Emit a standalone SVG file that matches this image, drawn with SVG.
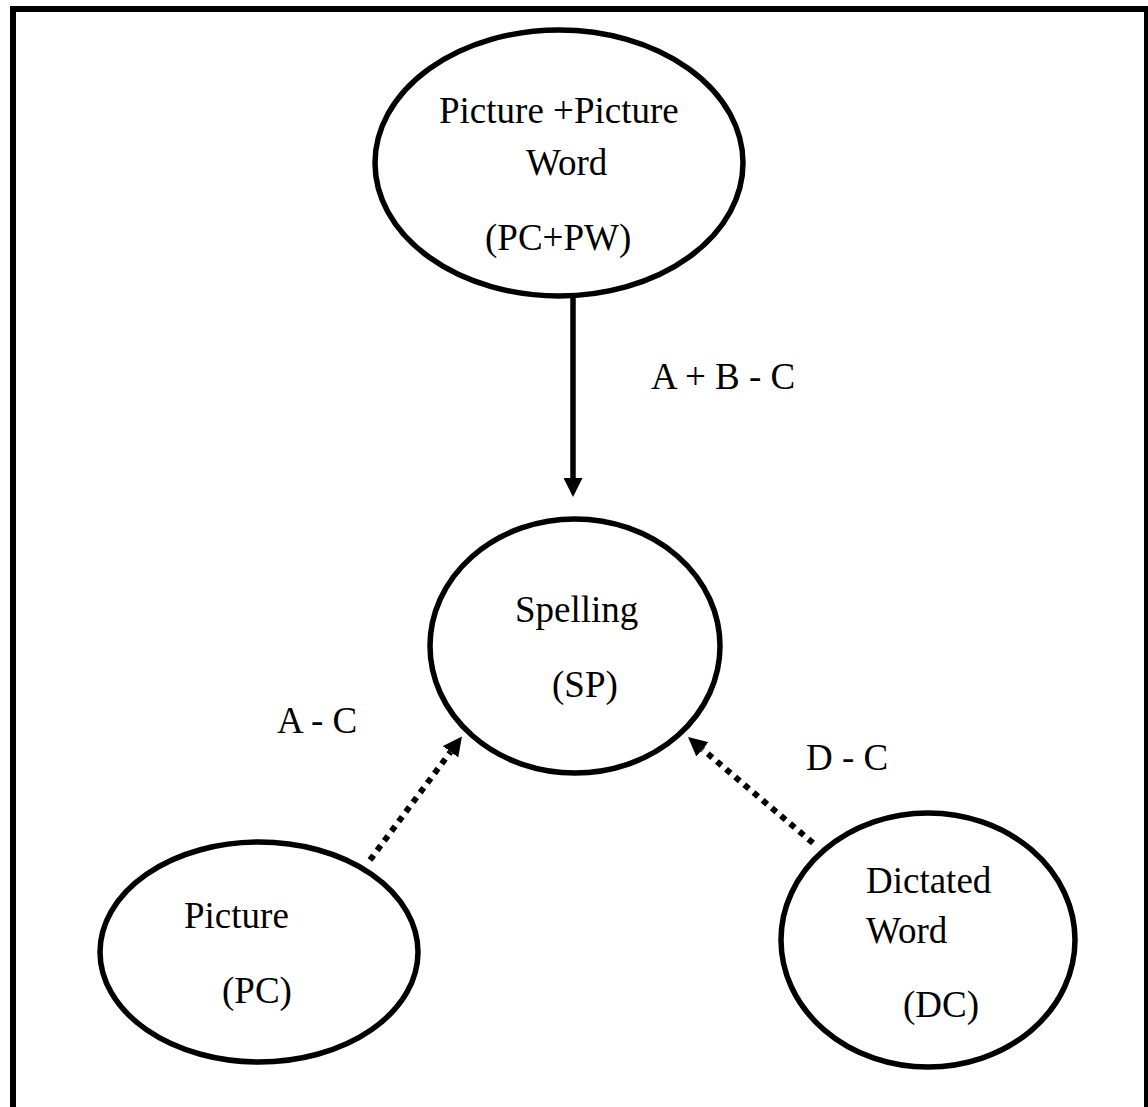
<svg xmlns="http://www.w3.org/2000/svg" width="1148" height="1107" viewBox="0 0 1148 1107">
<style>
.node{fill:#fff;stroke:#000;stroke-width:5.5}
.lbl{font-family:"Liberation Serif","Times New Roman",serif;font-size:37px;fill:#000}
.solid{stroke:#000;stroke-width:5.5;fill:none}
.dot{stroke:#000;stroke-width:6;fill:none;stroke-dasharray:6 6}
</style>
<defs>
<marker id="ah" markerUnits="userSpaceOnUse" markerWidth="19" markerHeight="19" refX="0" refY="9.5" orient="auto" viewBox="0 0 19 19">
<path d="M0,0 L19,9.5 L0,19 z" fill="#000"/>
</marker>
</defs>
<rect x="0" y="0" width="1148" height="1107" fill="#fff"/>
<rect id="frame" x="13" y="9" width="1134" height="1110" fill="none" stroke="#000" stroke-width="6"/>
<g id="connectors">
<line class="solid" x1="573" y1="297" x2="573" y2="478" marker-end="url(#ah)"/>
<line class="dot" x1="370" y1="860" x2="450.6" y2="751.8" marker-end="url(#ah)"/>
<line class="dot" x1="813" y1="843" x2="702.5" y2="749.3" marker-end="url(#ah)"/>
<text class="lbl" x="651" y="389">A + B - C</text>
<text class="lbl" x="277" y="733">A - C</text>
<text class="lbl" x="806" y="770">D - C</text>
</g>
<g id="node-pcpw">
<ellipse class="node" cx="559" cy="163" rx="184" ry="133"/>
<text class="lbl" x="439" y="123">Picture +Picture</text>
<text class="lbl" x="526" y="175">Word</text>
<text class="lbl" x="485" y="250">(PC+PW)</text>
</g>
<g id="node-sp">
<ellipse class="node" cx="575" cy="646" rx="145" ry="127"/>
<text class="lbl" x="515" y="622">Spelling</text>
<text class="lbl" x="552" y="697">(SP)</text>
</g>
<g id="node-pc">
<ellipse class="node" cx="259" cy="952" rx="159" ry="110"/>
<text class="lbl" x="184" y="928">Picture</text>
<text class="lbl" x="222" y="1003">(PC)</text>
</g>
<g id="node-dc">
<ellipse class="node" cx="928" cy="940" rx="147" ry="127"/>
<text class="lbl" x="866" y="893">Dictated</text>
<text class="lbl" x="866" y="943">Word</text>
<text class="lbl" x="903" y="1017">(DC)</text>
</g>
</svg>
